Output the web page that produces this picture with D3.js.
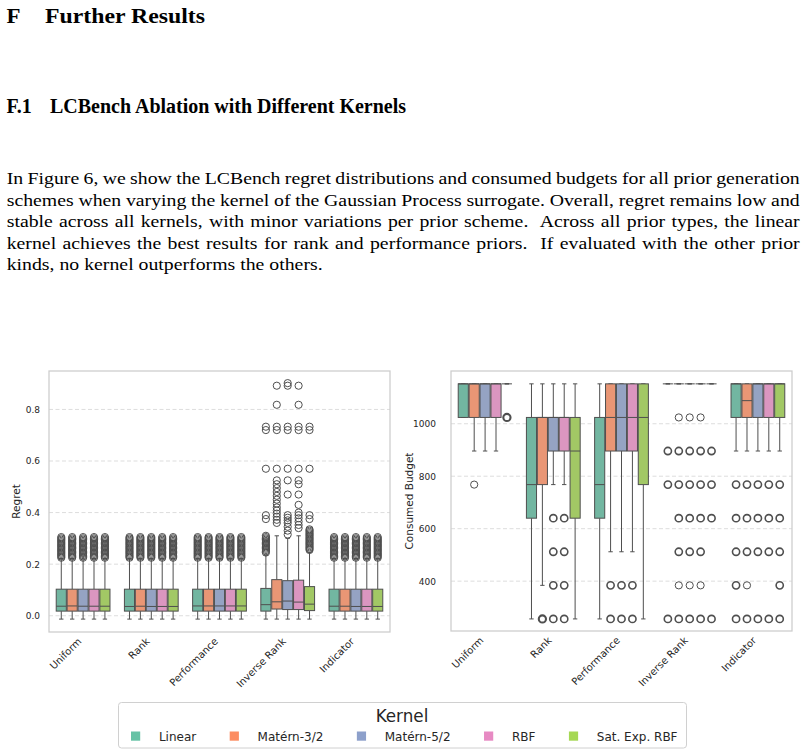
<!DOCTYPE html>
<html>
<head>
<meta charset="utf-8">
<script src="https://cdn.jsdelivr.net/npm/d3@7"></script>
<style>
  html, body { margin: 0; padding: 0; background: #fff; }
  body { width: 805px; height: 755px; overflow: hidden; }
</style>
</head>
<body>
<div id="page"></div>
<script>
// LCBench kernel ablation - text block plus two grouped box plots

const priorTypes = ['Uniform', 'Rank', 'Performance', 'Inverse Rank', 'Indicator'];
const kernels = ['Linear', 'Matérn-3/2', 'Matérn-5/2', 'RBF', 'Sat. Exp. RBF'];
const kernelColors = ['#66c2a5', '#fc8d62', '#8da0cb', '#e78ac3', '#a6d854'];

const regretTicks = [0, 0.2, 0.4, 0.6, 0.8];
const budgetTicks = [400, 600, 800, 1000];

const paragraphLines = [
    'In Figure 6, we show the LCBench regret distributions and consumed budgets for all prior generation',
    'schemes when varying the kernel of the Gaussian Process surrogate. Overall, regret remains low and',
    'stable across all kernels, with minor variations per prior scheme.  Across all prior types, the linear',
    'kernel achieves the best results for rank and performance priors.  If evaluated with the other prior',
    'kinds, no kernel outperforms the others.'
];

// box stats per kernel: [lower whisker, q1, median, q3, upper whisker]
const regretUniform = [
    [-0.013, 0.018, 0.037, 0.103, 0.222],
    [-0.013, 0.018, 0.038, 0.103, 0.222],
    [-0.013, 0.018, 0.037, 0.103, 0.232],
    [-0.013, 0.018, 0.037, 0.103, 0.222],
    [-0.013, 0.018, 0.037, 0.103, 0.222]
];
const regretRank = [
    [-0.013, 0.018, 0.036, 0.103, 0.222],
    [-0.013, 0.018, 0.037, 0.103, 0.222],
    [-0.013, 0.018, 0.036, 0.103, 0.222],
    [-0.013, 0.018, 0.036, 0.103, 0.222],
    [-0.013, 0.018, 0.036, 0.103, 0.222]
];
const regretPerformance = [
    [-0.013, 0.018, 0.038, 0.103, 0.222],
    [-0.013, 0.018, 0.038, 0.103, 0.222],
    [-0.013, 0.018, 0.038, 0.103, 0.222],
    [-0.013, 0.018, 0.038, 0.103, 0.222],
    [-0.013, 0.018, 0.038, 0.103, 0.222]
];
const regretInverseRank = [
    [-0.013, 0.018, 0.043, 0.106, 0.235],
    [-0.013, 0.026, 0.054, 0.140, 0.310],
    [-0.013, 0.024, 0.057, 0.136, 0.300],
    [-0.013, 0.024, 0.053, 0.138, 0.310],
    [-0.013, 0.020, 0.045, 0.113, 0.245]
];
const regretIndicator = [
    [-0.013, 0.018, 0.037, 0.103, 0.222],
    [-0.013, 0.018, 0.037, 0.103, 0.222],
    [-0.013, 0.018, 0.036, 0.103, 0.222],
    [-0.013, 0.018, 0.036, 0.103, 0.222],
    [-0.013, 0.018, 0.036, 0.103, 0.222]
];

// outliers
const regretTail = [0.225, 0.23, 0.235, 0.24, 0.245, 0.25, 0.255, 0.26, 0.265, 0.27, 0.275, 0.28, 0.285, 0.29, 0.295, 0.3, 0.305];
const regretOutInverseRank = [
    [0.245, 0.25, 0.255, 0.26, 0.265, 0.27, 0.275, 0.28, 0.285, 0.29, 0.295, 0.3, 0.305, 0.31, 0.375, 0.39, 0.57, 0.72, 0.733],
    [0.36, 0.372, 0.384, 0.396, 0.408, 0.42, 0.435, 0.45, 0.465, 0.48, 0.495, 0.51, 0.525, 0.57, 0.72, 0.733, 0.818, 0.892],
    [0.315, 0.33, 0.345, 0.36, 0.37, 0.38, 0.39, 0.47, 0.525, 0.57, 0.72, 0.733, 0.892, 0.902],
    [0.34, 0.352, 0.365, 0.378, 0.39, 0.40, 0.43, 0.47, 0.51, 0.525, 0.57, 0.72, 0.733, 0.818, 0.892],
    [0.255, 0.26, 0.265, 0.27, 0.275, 0.28, 0.285, 0.29, 0.295, 0.3, 0.305, 0.31, 0.315, 0.32, 0.325, 0.33, 0.335, 0.375, 0.39, 0.57, 0.72, 0.733]
];

const budgetUniform = [
    [1024, 1024, 1152, 1152, 1152],
    [896, 1024, 1152, 1152, 1152],
    [896, 1024, 1152, 1152, 1152],
    [896, 1024, 1152, 1152, 1152],
    [1152, 1152, 1152, 1152, 1152]
];
const budgetRank = [
    [256, 640, 768, 1024, 1152],
    [384, 768, 1024, 1024, 1152],
    [768, 896, 1024, 1024, 1152],
    [768, 896, 1024, 1024, 1152],
    [256, 640, 896, 1024, 1152]
];
const budgetPerformance = [
    [256, 640, 768, 1024, 1152],
    [512, 896, 1024, 1152, 1152],
    [512, 896, 1024, 1152, 1152],
    [512, 896, 1024, 1152, 1152],
    [256, 768, 1024, 1152, 1152]
];
const budgetInverseRank = [
    [1152, 1152, 1152, 1152, 1152],
    [1152, 1152, 1152, 1152, 1152],
    [1152, 1152, 1152, 1152, 1152],
    [1152, 1152, 1152, 1152, 1152],
    [1152, 1152, 1152, 1152, 1152]
];
const budgetIndicator = [
    [896, 1024, 1152, 1152, 1152],
    [896, 1024, 1088, 1152, 1152],
    [896, 1024, 1152, 1152, 1152],
    [896, 1024, 1152, 1152, 1152],
    [896, 1024, 1152, 1152, 1152]
];

// repeated values = several runs on the same budget
const budgetOutUniform = [[], [768], [], [], [1024, 1024, 1024]];
const budgetOutRank = [
    [],
    [256, 256, 256],
    [640, 640, 512, 512, 384, 384, 256, 256],
    [640, 640, 512, 512, 384, 384, 256, 256],
    []
];
const budgetOutPerformance = [
    [],
    [384, 384, 256, 256],
    [384, 384, 256, 256],
    [384, 384, 256, 256],
    []
];
const budgetOutInverseRank = [
    [896, 896, 768, 768, 256, 256],
    [1024, 896, 896, 768, 768, 640, 640, 512, 512, 384, 256, 256],
    [1024, 896, 896, 768, 768, 640, 640, 512, 512, 384, 256, 256],
    [1024, 896, 896, 768, 768, 640, 640, 512, 512, 384, 256, 256],
    [896, 896, 768, 768, 640, 640, 256, 256]
];
const budgetOutIndicator = [
    [768, 768, 640, 640, 512, 512, 384, 384, 256, 256],
    [768, 768, 640, 640, 512, 512, 384, 256, 256],
    [768, 768, 640, 640, 512, 512, 256, 256],
    [768, 768, 640, 640, 512, 512, 256, 256],
    [768, 768, 640, 640, 512, 512, 384, 384, 256, 256]
];

const regretStats = [regretUniform, regretRank, regretPerformance, regretInverseRank, regretIndicator];
const regretOutliers = [
    kernels.map(() => regretTail),
    kernels.map(() => regretTail),
    kernels.map(() => regretTail),
    regretOutInverseRank,
    kernels.map(() => regretTail)
];
const budgetStats = [budgetUniform, budgetRank, budgetPerformance, budgetInverseRank, budgetIndicator];
const budgetOutliers = [budgetOutUniform, budgetOutRank, budgetOutPerformance, budgetOutInverseRank, budgetOutIndicator];

// ---------------------------------------------------------------------

const W = 805, H = 755;
const sans = 'DejaVu Sans, sans-serif';
const serif = 'Liberation Serif, Times New Roman, serif';
const textColor = '#262626';
const lineColor = '#4f4f4f';

const svg = d3.select('#page')
    .append('svg')
    .attr('width', W)
    .attr('height', H)
    .style('display', 'block');

// headings (TeX Times runs a bit wider than Liberation Serif, so stretch to width)
const h1 = svg.append('g').style('font-family', serif).style('font-weight', 'bold').style('fill', '#000');
h1.append('text').attr('x', 6.5).attr('y', 22.7).style('font-size', '22px')
    .attr('textLength', 14).attr('lengthAdjust', 'spacingAndGlyphs').text('F');
h1.append('text').attr('x', 45).attr('y', 22.7).style('font-size', '22px')
    .attr('textLength', 160).attr('lengthAdjust', 'spacingAndGlyphs').text('Further Results');
h1.append('text').attr('x', 6.5).attr('y', 113.3).style('font-size', '19.9px').text('F.1');
h1.append('text').attr('x', 50).attr('y', 113.3).style('font-size', '19.9px')
    .attr('textLength', 356).attr('lengthAdjust', 'spacingAndGlyphs').text('LCBench Ablation with Different Kernels');

// justified paragraph
const paraLeft = 6.7, paraWidth = 793, lastLineWidth = 316;
const para = svg.append('g')
    .style('font-family', serif)
    .style('font-size', '17.6px')
    .style('fill', '#000');
const paraTexts = paragraphLines.map((line, i) => para.append('text')
    .attr('x', 0)
    .attr('y', 184.3 + i * 21.5)
    .style('white-space', 'pre')
    .text(line));
const sx = lastLineWidth / paraTexts[paraTexts.length - 1].node().getComputedTextLength();
para.attr('transform', `translate(${paraLeft},0) scale(${sx},1)`);
paraTexts.forEach((t, i) => {
    if (i === paraTexts.length - 1) return;
    const line = paragraphLines[i];
    const natural = t.node().getComputedTextLength();
    const spaces = (line.match(/ /g) || []).length;
    t.style('word-spacing', ((paraWidth / sx - natural) / spaces) + 'px');
});

function drawPanel(cfg) {
    const x0 = d3.scaleBand().domain(priorTypes).range([cfg.left, cfg.right]);
    const groupW = x0.bandwidth() * 0.8;
    const x1 = d3.scaleBand().domain(kernels).range([0, groupW]);
    const bw = x1.bandwidth();
    const y = d3.scaleLinear().domain(cfg.domain).range([cfg.bottom, cfg.top]);

    const g = svg.append('g');

    // dashed grid
    g.append('g').selectAll('line')
        .data(cfg.ticks)
        .join('line')
        .attr('x1', cfg.left)
        .attr('x2', cfg.right)
        .attr('y1', d => y(d))
        .attr('y2', d => y(d))
        .style('stroke', '#dddddd')
        .style('stroke-width', 1)
        .style('stroke-dasharray', '4,2.5');

    // y axis
    const yAxis = g.append('g')
        .attr('transform', `translate(${cfg.left},0)`)
        .call(d3.axisLeft(y).tickValues(cfg.ticks).tickSize(0).tickPadding(cfg.tickPad).tickFormat(cfg.fmt));
    yAxis.select('.domain').remove();
    yAxis.selectAll('text')
        .style('font-family', sans)
        .style('font-size', '9px')
        .style('fill', textColor);

    // x axis, rotated labels
    const xAxis = g.append('g')
        .attr('transform', `translate(0,${cfg.bottom})`)
        .call(d3.axisBottom(x0).tickSize(0));
    xAxis.select('.domain').remove();
    xAxis.selectAll('text')
        .attr('x', 0)
        .attr('y', 0)
        .attr('dy', null)
        .attr('text-anchor', 'end')
        .attr('transform', 'translate(-1,10) rotate(-45)')
        .style('font-family', sans)
        .style('font-size', '10px')
        .style('fill', textColor);

    // axis label
    g.append('text')
        .attr('transform', `translate(${cfg.labelX},${(cfg.top + cfg.bottom) / 2}) rotate(-90)`)
        .attr('text-anchor', 'middle')
        .style('font-family', sans)
        .style('font-size', '10.5px')
        .style('fill', textColor)
        .text(cfg.label);

    // boxes
    const boxes = g.append('g');
    priorTypes.forEach((p, pi) => {
        kernels.forEach((k, ki) => {
            const [lo, q1, med, q3, hi] = cfg.stats[pi][ki];
            const cx = x0(p) + (x0.bandwidth() - groupW) / 2 + x1(k) + bw / 2;
            const fill = d3.hsl(kernelColors[ki]);
            fill.s *= 0.75;
            const bg = boxes.append('g');

            // whiskers and caps
            [[lo, q1], [q3, hi]].forEach(([a, b]) => {
                bg.append('line')
                    .attr('x1', cx).attr('x2', cx)
                    .attr('y1', y(a)).attr('y2', y(b))
                    .style('stroke', lineColor).style('stroke-width', 1);
            });
            [lo, hi].forEach(v => {
                bg.append('line')
                    .attr('x1', cx - bw * 0.2).attr('x2', cx + bw * 0.2)
                    .attr('y1', y(v)).attr('y2', y(v))
                    .style('stroke', lineColor).style('stroke-width', 1);
            });

            bg.append('rect')
                .attr('x', cx - bw / 2 + 0.4)
                .attr('width', bw - 0.8)
                .attr('y', y(q3))
                .attr('height', y(q1) - y(q3))
                .style('fill', fill.formatHex())
                .style('stroke', lineColor)
                .style('stroke-width', 1);

            bg.append('line')
                .attr('x1', cx - bw / 2 + 0.4).attr('x2', cx + bw / 2 - 0.4)
                .attr('y1', y(med)).attr('y2', y(med))
                .style('stroke', lineColor).style('stroke-width', 1);

            // outliers: repeated values drawn heavier
            const counts = d3.rollups(cfg.outliers[pi][ki], v => v.length, d => d);
            bg.selectAll('circle')
                .data(counts)
                .join('circle')
                .attr('cx', cx)
                .attr('cy', d => y(d[0]))
                .attr('r', 3.6)
                .style('fill', 'none')
                .style('stroke', lineColor)
                .style('stroke-width', d => Math.min(1 + (d[1] - 1) * 0.6, 2.1));
        });
    });

    // frame
    g.append('rect')
        .attr('x', cfg.left)
        .attr('y', cfg.top)
        .attr('width', cfg.right - cfg.left)
        .attr('height', cfg.bottom - cfg.top)
        .style('fill', 'none')
        .style('stroke', '#cccccc')
        .style('stroke-width', 1.25);
}

drawPanel({
    left: 49, right: 390, top: 371, bottom: 632,
    domain: [-0.063, 0.949],
    ticks: regretTicks,
    fmt: d3.format('.1f'),
    tickPad: 9,
    label: 'Regret',
    labelX: 19.5,
    stats: regretStats,
    outliers: regretOutliers
});

drawPanel({
    left: 451, right: 792, top: 371, bottom: 631,
    domain: [210, 1201],
    ticks: budgetTicks,
    fmt: d3.format('d'),
    tickPad: 15,
    label: 'Consumed Budget',
    labelX: 413,
    stats: budgetStats,
    outliers: budgetOutliers
});

// legend
const legend = svg.append('g').style('font-family', sans).style('fill', textColor);
legend.append('rect')
    .attr('x', 118.5).attr('y', 702.5)
    .attr('width', 568).attr('height', 45.5)
    .attr('rx', 3)
    .style('fill', '#fff')
    .style('stroke', '#d0d0d0')
    .style('stroke-width', 1);
legend.append('text')
    .attr('x', 402).attr('y', 721.5)
    .attr('text-anchor', 'middle')
    .style('font-size', '16.8px')
    .text('Kernel');

let lx = 135.6;
kernels.forEach((k, i) => {
    legend.append('rect')
        .attr('x', lx - 4.6).attr('y', 731.5)
        .attr('width', 9.2).attr('height', 9.2)
        .style('fill', kernelColors[i]);
    const t = legend.append('text')
        .attr('x', lx + 23.3).attr('y', 740.5)
        .style('font-size', '12px')
        .text(k);
    lx = lx + 23.3 + t.node().getComputedTextLength() + 38.1;
});
</script>
</body>
</html>
